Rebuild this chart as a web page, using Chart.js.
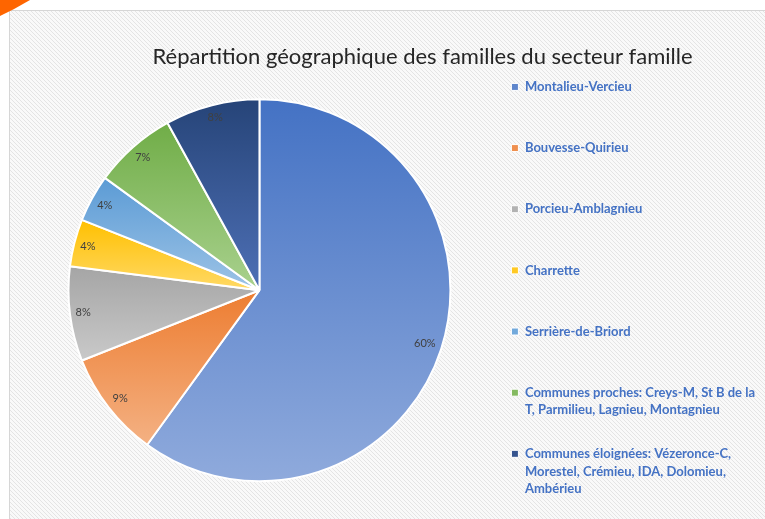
<!DOCTYPE html>
<html lang="fr">
<head>
<meta charset="utf-8">
<title>Répartition géographique des familles</title>
<script src="https://cdn.jsdelivr.net/npm/chart.js@4.4.1/dist/chart.umd.min.js"></script>
<style>
  html, body { margin: 0; padding: 0; background: #fff; }
  #wrap { position: relative; width: 765px; height: 519px; }
</style>
</head>
<body>
<div id="wrap"><canvas id="pieChart"></canvas></div>
<script>
// ===== Data =====
const categories = [
  ["Montalieu-Vercieu"],
  ["Bouvesse-Quirieu"],
  ["Porcieu-Amblagnieu"],
  ["Charrette"],
  ["Serrière-de-Briord"],
  ["Communes proches: Creys-M, St B de la", "T, Parmilieu, Lagnieu, Montagnieu"],
  ["Communes éloignées: Vézeronce-C,", "Morestel, Crémieu, IDA, Dolomieu,", "Ambérieu"],
];
const shares = [60, 9, 8, 4, 4, 7, 8]; // %

// Excel-like gradient ends (top -> bottom of each slice)
const topColors = ["#4472C4", "#ED7D31", "#A5A5A5", "#FFC000", "#5B9BD5", "#70AD47", "#264478"];
const bottomColors = ["#8FAADC", "#F4B183", "#C9C9C9", "#FFD966", "#9DC3E6", "#A9D18E", "#4E70B6"];

const PIE_RADIUS = 191;

function mixHex(a, b, t) {
  const pa = [1, 3, 5].map((k) => parseInt(a.substr(k, 2), 16));
  const pb = [1, 3, 5].map((k) => parseInt(b.substr(k, 2), 16));
  const m = pa.map((v, i) => Math.round(v + (pb[i] - v) * t));
  return "rgb(" + m.join(",") + ")";
}

// vertical gradient spanning the slice's own height
function sliceGradient(context) {
  const i = context.dataIndex;
  const chart = context.chart;
  const area = chart.chartArea;
  if (!area) return topColors[i];
  const cx = (area.left + area.right) / 2;
  const cy = (area.top + area.bottom) / 2;
  const total = shares.reduce((a, b) => a + b, 0);
  let before = 0;
  for (let k = 0; k < i; k++) before += shares[k];
  const a0 = -Math.PI / 2 + (before / total) * Math.PI * 2;
  const a1 = a0 + (shares[i] / total) * Math.PI * 2;
  const ys = [cy, cy + PIE_RADIUS * Math.sin(a0), cy + PIE_RADIUS * Math.sin(a1)];
  const has = (ang) => {
    for (let t = ang - 4 * Math.PI; t <= a1; t += 2 * Math.PI) {
      if (t >= a0 && t <= a1) return true;
    }
    return false;
  };
  if (has(Math.PI / 2)) ys.push(cy + PIE_RADIUS);
  if (has(-Math.PI / 2)) ys.push(cy - PIE_RADIUS);
  const y0 = Math.min(...ys);
  const y1 = Math.max(...ys);
  const g = chart.ctx.createLinearGradient(0, y0, 0, y1);
  g.addColorStop(0, topColors[i]);
  g.addColorStop(1, bottomColors[i]);
  return g;
}

function makeStripes(ctx) {
  const c = document.createElement("canvas");
  c.width = 4;
  c.height = 4;
  const g = c.getContext("2d");
  g.fillStyle = "#f9f9f9";
  g.fillRect(0, 0, 4, 4);
  g.strokeStyle = "#e4e4e4";
  g.lineWidth = 1;
  g.beginPath();
  g.moveTo(0, 0); g.lineTo(4, 4);
  g.moveTo(-1, 3); g.lineTo(1, 5);
  g.moveTo(3, -1); g.lineTo(5, 1);
  g.stroke();
  return ctx.createPattern(c, "repeat");
}

// page background, hatched chart box and the orange corner
const backdrop = {
  id: "backdrop",
  beforeDraw(chart) {
    const ctx = chart.ctx;
    ctx.save();
    ctx.fillStyle = "#fff";
    ctx.fillRect(0, 0, chart.width, chart.height);
    ctx.fillStyle = makeStripes(ctx);
    ctx.fillRect(9.5, 10.5, chart.width, chart.height);
    ctx.strokeStyle = "#d6d6d6";
    ctx.lineWidth = 1;
    ctx.strokeRect(9.5, 10.5, chart.width, chart.height);
    ctx.fillStyle = "#FE6500";
    ctx.beginPath();
    ctx.moveTo(0, 0);
    ctx.lineTo(30, 0);
    ctx.quadraticCurveTo(15, 9, 0, 16);
    ctx.closePath();
    ctx.fill();
    ctx.restore();
  },
};

// nudge the title to the right like in the workbook
const titleShift = {
  id: "titleShift",
  afterLayout(chart) {
    if (chart.titleBlock) {
      chart.titleBlock.left += 32;
      chart.titleBlock.right += 32;
    }
  },
};

// percentage labels, "inside end"
const sliceLabels = {
  id: "sliceLabels",
  afterDatasetsDraw(chart) {
    const ctx = chart.ctx;
    const meta = chart.getDatasetMeta(0);
    const total = shares.reduce((a, b) => a + b, 0);
    ctx.save();
    ctx.font = "11px Lato";
    ctx.fillStyle = "#404040";
    ctx.textAlign = "center";
    ctx.textBaseline = "middle";
    meta.data.forEach((arc, i) => {
      const { x, y, startAngle, endAngle, outerRadius } = arc.getProps(
        ["x", "y", "startAngle", "endAngle", "outerRadius"], true);
      const mid = (startAngle + endAngle) / 2;
      const text = Math.round((shares[i] / total) * 100) + "%";
      const w = ctx.measureText(text).width;
      const h = 12;
      const ux = Math.cos(mid);
      const uy = Math.sin(mid);
      const d = outerRadius - 5 - (Math.abs(ux) * w / 2 + Math.abs(uy) * h / 2);
      ctx.fillText(text, x + ux * d, y + uy * d);
    });
    ctx.restore();
  },
};

const ctx = document.getElementById("pieChart").getContext("2d");
new Chart(ctx, {
  type: "pie",
  data: {
    labels: categories,
    datasets: [
      {
        data: shares,
        backgroundColor: sliceGradient,
        borderColor: "#fff",
        borderWidth: 2,
        radius: PIE_RADIUS,
        hoverOffset: 0,
      },
    ],
  },
  options: {
    responsive: true,
    maintainAspectRatio: false,
    animation: false,
    layout: { padding: { left: 16, right: 0, top: 0, bottom: 9 } },
    plugins: {
      title: {
        display: true,
        text: "Répartition géographique des familles du secteur famille",
        color: "#262626",
        font: { family: "Lato", size: 22, weight: "normal", lineHeight: 1.2 },
        padding: { top: 44, bottom: 0 },
      },
      legend: {
        position: "right",
        align: "center",
        fullSize: false,
        labels: {
          boxWidth: 7,
          boxHeight: 7,
          padding: 8.5,
          color: "#4472C4",
          font: { family: "Lato", size: 13, weight: "bold", lineHeight: 1.35 },
          generateLabels(chart) {
            return chart.data.labels.map((lab, i) => {
              const lines = [].concat(lab);
              while (lines.length < 3) lines.push("");
              return {
                text: lines,
                fillStyle: mixHex(topColors[i], bottomColors[i], 0.35),
                strokeStyle: "#ffffff",
                lineWidth: 1,
                fontColor: "#4472C4",
                hidden: false,
                index: i,
              };
            });
          },
        },
      },
      tooltip: { enabled: false },
    },
  },
  plugins: [backdrop, titleShift, sliceLabels],
});
</script>
</body>
</html>
